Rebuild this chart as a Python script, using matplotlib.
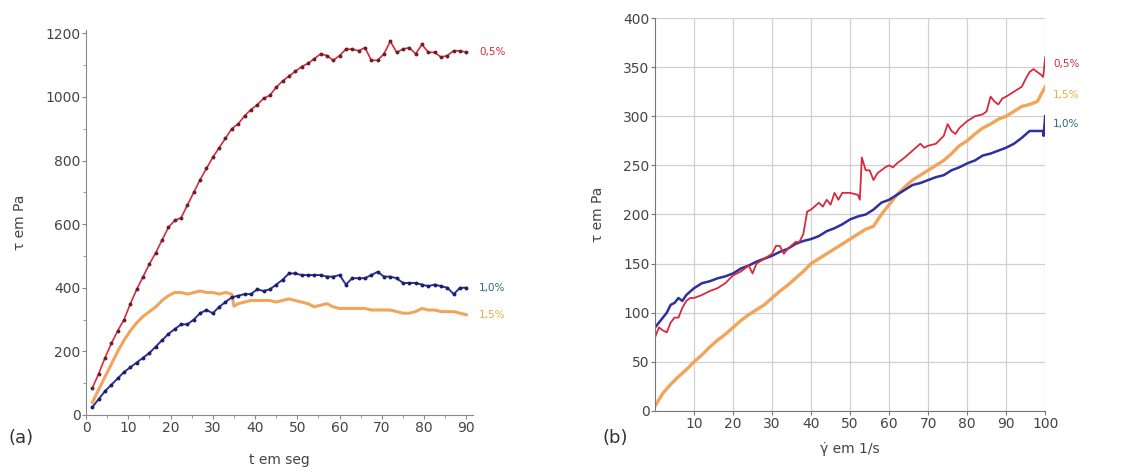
import numpy as np
import matplotlib.pyplot as plt
from matplotlib.ticker import MultipleLocator

# (a) tau vs time
t_a = [1.5, 3, 4.5, 6, 7.5, 9, 10.5, 12, 13.5, 15, 16.5, 18, 19.5, 21, 22.5, 24, 25.5, 27,
       28.5, 30, 31.5, 33, 34.5, 36, 37.5, 39, 40.5, 42, 43.5, 45, 46.5, 48, 49.5, 51, 52.5,
       54, 55.5, 57, 58.5, 60, 61.5, 63, 64.5, 66, 67.5, 69, 70.5, 72, 73.5, 75, 76.5, 78,
       79.5, 81, 82.5, 84, 85.5, 87, 88.5, 90]
red_a = [85, 130, 180, 225, 265, 300, 350, 395, 435, 475, 510, 550, 590, 612, 620, 660, 700,
         740, 775, 810, 840, 870, 900, 915, 940, 960, 975, 995, 1005, 1030, 1050, 1065, 1080,
         1095, 1105, 1120, 1135, 1130, 1115, 1130, 1150, 1150, 1145, 1155, 1115, 1115, 1135,
         1175, 1140, 1150, 1155, 1135, 1165, 1140, 1140, 1125, 1130, 1145, 1145, 1140]
blue_a = [25, 50, 75, 95, 115, 135, 150, 165, 180, 195, 215, 235, 255, 270, 285, 285, 300,
          320, 330, 320, 340, 355, 370, 375, 380, 380, 395, 390, 395, 410, 425, 445, 445, 440,
          440, 440, 440, 435, 435, 440, 410, 430, 430, 430, 440, 450, 435, 435, 430, 415, 415,
          415, 410, 405, 410, 405, 400, 380, 400, 400]
t_or = [1.5, 3, 4.5, 6, 7.5, 9, 10.5, 12, 13.5, 15, 16.5, 18, 19.5, 21, 22.5, 24, 25.5, 27,
        28.5, 30, 31.5, 33, 34.5, 35, 36, 37.5, 39, 40.5, 42, 43.5, 45, 46.5, 48, 49.5, 51,
        52.5, 54, 55.5, 57, 58.5, 60, 61.5, 63, 64.5, 66, 67.5, 69, 70.5, 72, 73.5, 75, 76.5,
        78, 79.5, 81, 82.5, 84, 85.5, 87, 88.5, 90]
orange_a = [40, 80, 120, 160, 200, 235, 265, 290, 310, 325, 340, 360, 375, 385, 385, 380, 385,
            390, 385, 385, 380, 385, 380, 342, 350, 355, 360, 360, 360, 360, 355, 360, 365,
            360, 355, 350, 340, 345, 350, 340, 335, 335, 335, 335, 335, 330, 330, 330, 330,
            325, 320, 320, 325, 335, 330, 330, 325, 325, 325, 320, 315]

# (b) tau vs shear rate
g_red = [0, 1, 2, 3, 4, 5, 6, 7, 8, 9, 10, 12, 14, 16, 18, 20, 22, 24, 25, 26, 28, 30, 31, 32,
         33, 34, 36, 37, 38, 39, 40, 42, 43, 44, 45, 46, 47, 48, 50, 52, 52.5, 53, 54, 55, 56,
         57, 58, 59, 60, 61, 62, 64, 66, 68, 69, 70, 72, 74, 75, 76, 77, 78, 80, 82, 84, 85,
         86, 87, 88, 89, 90, 92, 94, 95, 96, 97, 98, 99, 99.5, 100]
red_b = [75, 85, 82, 80, 90, 95, 95, 105, 112, 115, 115, 118, 122, 125, 130, 138, 142, 148,
         140, 150, 155, 160, 168, 168, 160, 165, 172, 172, 180, 203, 205, 212, 208, 215, 210,
         222, 215, 222, 222, 220, 215, 258, 245, 245, 235, 242, 245, 248, 250, 248, 252, 258,
         265, 272, 268, 270, 272, 280, 292, 285, 282, 288, 295, 300, 302, 305, 320, 315, 312,
         318, 320, 325, 330, 338, 345, 348, 345, 342, 340, 360]
g_blue = [0, 1, 2, 3, 4, 5, 6, 7, 8, 10, 12, 14, 16, 18, 20, 22, 24, 26, 28, 30, 32, 34, 36,
          38, 40, 42, 44, 46, 48, 50, 52, 54, 56, 58, 60, 62, 64, 66, 68, 70, 72, 74, 76, 78,
          80, 82, 84, 86, 88, 90, 92, 94, 96, 98, 99.5, 99.6, 100]
blue_b = [85, 90, 95, 100, 108, 110, 115, 112, 118, 125, 130, 132, 135, 137, 140, 145, 148,
          152, 155, 158, 162, 165, 170, 173, 175, 178, 183, 186, 190, 195, 198, 200, 205, 212,
          215, 220, 225, 230, 232, 235, 238, 240, 245, 248, 252, 255, 260, 262, 265, 268, 272,
          278, 285, 285, 285, 280, 300]
g_or = [0, 2, 4, 6, 8, 10, 12, 14, 16, 18, 20, 22, 24, 26, 28, 30, 32, 34, 36, 38, 40, 42, 44,
        46, 48, 50, 52, 54, 56, 58, 60, 62, 64, 66, 68, 70, 72, 74, 76, 78, 80, 82, 84, 86, 88,
        90, 92, 94, 96, 98, 100]
orange_b = [5, 18, 27, 35, 42, 50, 57, 65, 72, 78, 85, 92, 98, 103, 108, 115, 122, 128, 135,
            142, 150, 155, 160, 165, 170, 175, 180, 185, 188, 200, 210, 220, 228, 235, 240,
            245, 250, 255, 262, 270, 275, 282, 288, 292, 297, 300, 305, 310, 312, 315, 330]

RED = '#d82a3c'
BLUE = '#2f2fa0'
ORANGE = '#f0a55a'
TXT = '#444444'

fig = plt.figure(figsize=(11.44, 4.74), dpi=100)

# ---- panel (a)
ax1 = fig.add_axes([0.0752, 0.1245, 0.338, 0.812])
ax1.plot(t_or, orange_a, color=ORANGE, lw=2.2)
ax1.plot(t_a, red_a, color=RED, lw=1.2, marker='o', ms=1.8, mfc='#6a2028', mec='#6a2028')
ax1.plot(t_a, blue_a, color=BLUE, lw=1.4, marker='o', ms=1.8, mfc='#202060', mec='#202060')
ax1.set_xlim(0, 91.5)
ax1.set_ylim(0, 1210)
ax1.xaxis.set_major_locator(MultipleLocator(10))
ax1.xaxis.set_minor_locator(MultipleLocator(5))
ax1.yaxis.set_major_locator(MultipleLocator(200))
ax1.yaxis.set_minor_locator(MultipleLocator(100))
for s in ['top', 'right']:
    ax1.spines[s].set_visible(False)
for s in ['left', 'bottom']:
    ax1.spines[s].set_color('#888888')
ax1.tick_params(which='both', direction='out', length=3, color='#888888', labelsize=10,
                labelcolor=TXT, pad=1)
ax1.tick_params(which='minor', length=2)
ax1.set_ylabel('τ em Pa', fontsize=10, color=TXT, labelpad=13)
ax1.set_xlabel('t em seg', fontsize=10, color=TXT, labelpad=13)
ax1.text(93, red_a[-1], '0,5%', color=RED, fontsize=7.5, va='center')
ax1.text(93, blue_a[-1], '1,0%', color='#2a6a7a', fontsize=7.5, va='center')
ax1.text(93, orange_a[-1], '1,5%', color='#e0b040', fontsize=7.5, va='center')
fig.text(0.007, 0.065, '(a)', fontsize=13, color='#333333')

# ---- panel (b)
ax2 = fig.add_axes([0.5726, 0.133, 0.341, 0.829])
ax2.plot(g_or, orange_b, color=ORANGE, lw=2.4)
ax2.plot(g_blue, blue_b, color=BLUE, lw=1.8)
ax2.plot(g_red, red_b, color=RED, lw=1.3)
ax2.set_xlim(0, 100)
ax2.set_ylim(0, 400)
ax2.set_xticks(np.arange(10, 101, 10))
ax2.set_yticks(np.arange(0, 401, 50))
ax2.grid(True, color='#d0d0d0', lw=0.9)
ax2.set_axisbelow(True)
for s in ['top', 'right']:
    ax2.spines[s].set_visible(False)
for s in ['left', 'bottom']:
    ax2.spines[s].set_color('#777777')
ax2.tick_params(direction='out', length=3, color='#777777', labelsize=10,
                labelcolor=TXT, pad=1)
ax2.set_ylabel('τ em Pa', fontsize=10, color=TXT, labelpad=13)
ax2.set_xlabel('γ̇ em 1/s', fontsize=10, color=TXT, labelpad=8)
ax2.text(102, 353, '0,5%', color=RED, fontsize=7.5, va='center', clip_on=False)
ax2.text(102, 322, '1,5%', color='#e0b040', fontsize=7.5, va='center', clip_on=False)
ax2.text(102, 292, '1,0%', color='#2a6a7a', fontsize=7.5, va='center', clip_on=False)
fig.text(0.527, 0.065, '(b)', fontsize=13, color='#333333')

fig.savefig('out.png', dpi=100, facecolor='white')
